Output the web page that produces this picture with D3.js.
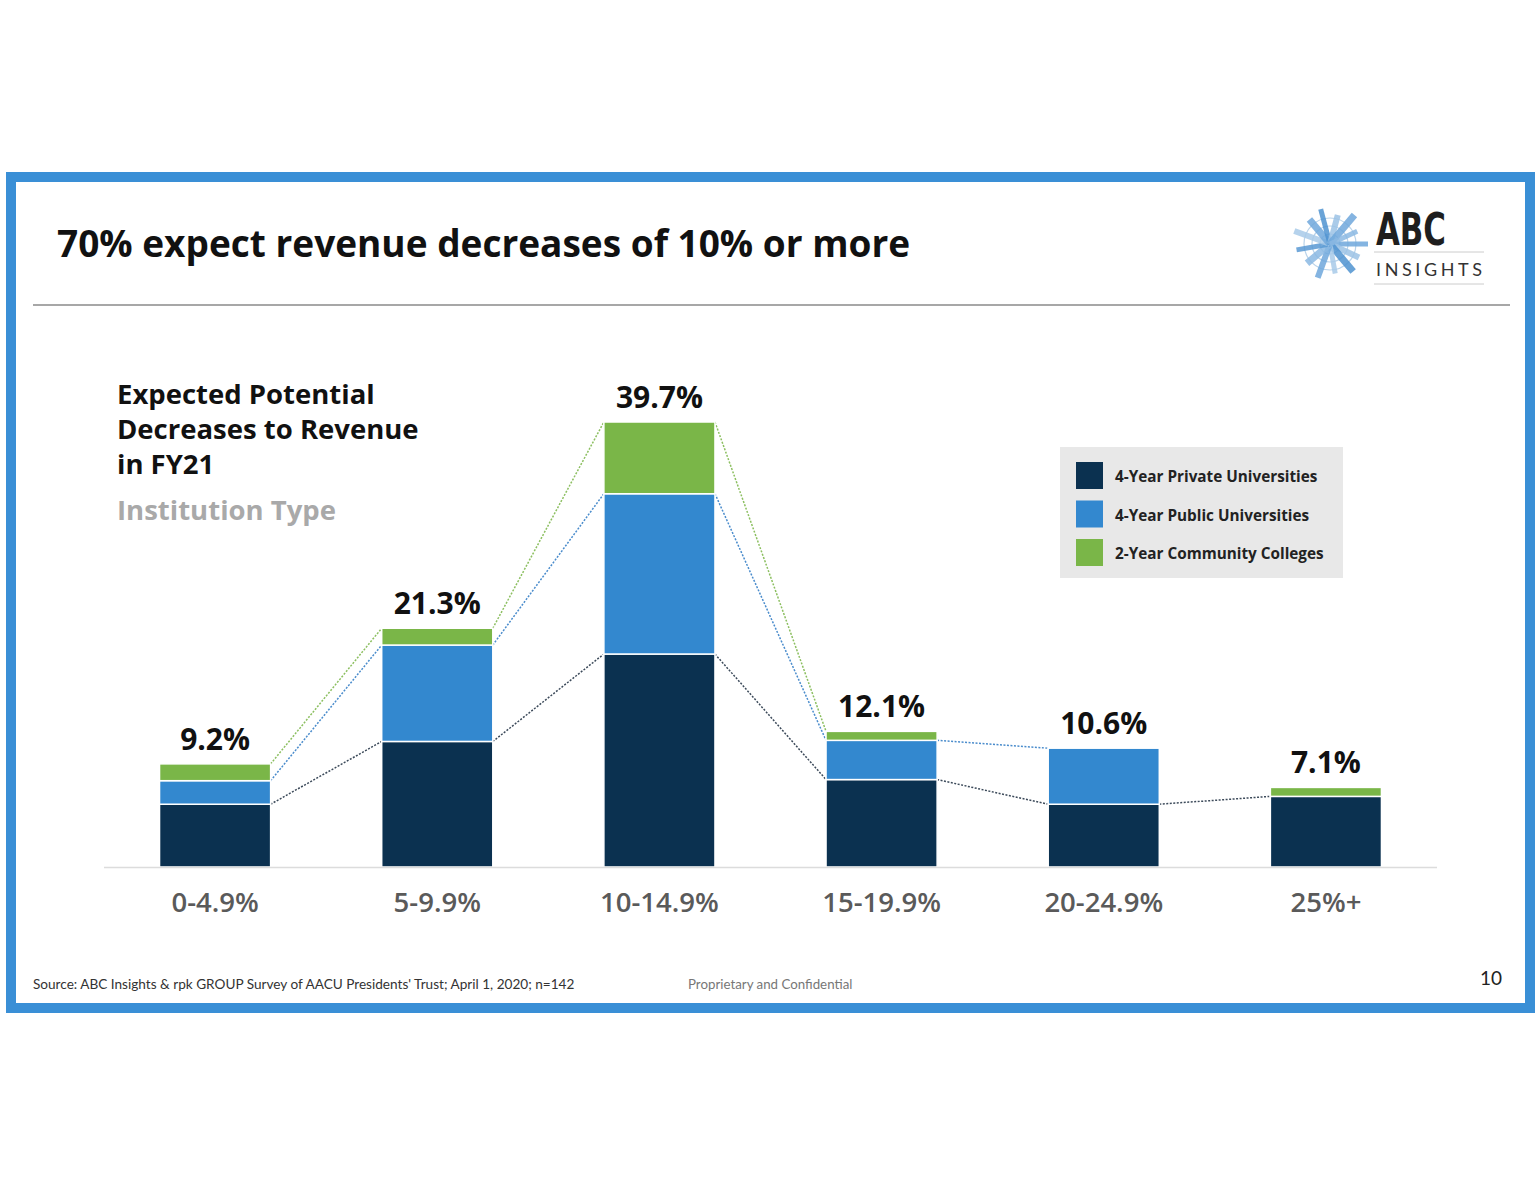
<!DOCTYPE html>
<html>
<head>
<meta charset="utf-8">
<script src="https://cdn.jsdelivr.net/npm/d3@7"></script>
<style>
  html, body { margin: 0; padding: 0; background: #fff; }
  svg { display: block; font-family: "Open Sans", Lato, sans-serif; }
</style>
</head>
<body>
<svg id="chart" width="1536" height="1187"></svg>
<script>
// ---- data ----
const categories = ["0-4.9%", "5-9.9%", "10-14.9%", "15-19.9%", "20-24.9%", "25%+"];
const seriesNames = ["4-Year Private Universities", "4-Year Public Universities", "2-Year Community Colleges"];
const privateValues = [5.6, 11.2, 19.0, 7.8, 5.6, 6.3];
const publicValues = [2.1, 8.6, 14.3, 3.5, 5.0, 0.0];
const communityValues = [1.5, 1.5, 6.4, 0.8, 0.0, 0.8];
const totalLabels = ["9.2%", "21.3%", "39.7%", "12.1%", "10.6%", "7.1%"];
const seriesColors = ["#0b3150", "#3388cf", "#7ab648"];
const lineColors = ["#3c4a5a", "#4a8ccc", "#8cbf60"];

const svg = d3.select("#chart");
const OPEN = "'Open Sans', sans-serif";
const LATO = "Lato, sans-serif";

// ---- frame ----
svg.append("rect").attr("x", 11).attr("y", 177).attr("width", 1519).attr("height", 831)
  .attr("fill", "#fff").attr("stroke", "#3a8fd6").attr("stroke-width", 10);

// title
svg.append("text").attr("x", 57).attr("y", 257).style("font-family", OPEN)
  .attr("font-size", 37).attr("font-weight", 700).attr("fill", "#111")
  .text("70% expect revenue decreases of 10% or more");
svg.append("line").attr("x1", 33).attr("x2", 1510).attr("y1", 305).attr("y2", 305)
  .attr("stroke", "#8a8a8a").attr("stroke-width", 1.5);

// ---- logo ----
const logo = svg.append("g").attr("transform", "translate(1330,244)");
[10, 18, 26].forEach(r => {
  logo.append("circle").attr("r", r).attr("fill", "none")
    .attr("stroke", "#b9d3ea").attr("stroke-width", 1.2);
});
const rays = [
  [0, 38, 5, "#6fa8dc"], [25, 32, 6, "#9cc3e6"], [50, 36, 7, "#4f93d1"], [80, 30, 5, "#a9cbe9"],
  [110, 36, 6, "#6fa8dc"], [140, 30, 7, "#8bb9e3"], [170, 34, 5, "#5a9ad4"], [200, 38, 6, "#a9cbe9"],
  [230, 32, 7, "#6fa8dc"], [255, 36, 5, "#4f93d1"], [285, 30, 6, "#9cc3e6"], [310, 38, 7, "#6fa8dc"],
  [335, 30, 5, "#8bb9e3"]
];
rays.forEach(([a, len, w, c]) => {
  const rad = a * Math.PI / 180;
  logo.append("line").attr("x1", 0).attr("y1", 0)
    .attr("x2", Math.cos(rad) * len).attr("y2", Math.sin(rad) * len)
    .attr("stroke", c).attr("stroke-width", w).attr("opacity", 0.85);
});
svg.append("text").attr("x", 1376).attr("y", 245)
  .style("font-family", "'Liberation Sans Narrow', 'DejaVu Sans Condensed', sans-serif")
  .attr("font-size", 44).attr("font-weight", 700).attr("fill", "#1e1e1e")
  .attr("textLength", 70).attr("lengthAdjust", "spacingAndGlyphs")
  .text("ABC");
svg.append("line").attr("x1", 1374).attr("x2", 1484).attr("y1", 252).attr("y2", 252)
  .attr("stroke", "#ccc").attr("stroke-width", 1);
svg.append("text").attr("x", 1376).attr("y", 276)
  .style("font-family", LATO)
  .attr("font-size", 18).attr("fill", "#333").attr("letter-spacing", 3.6)
  .text("INSIGHTS");
svg.append("line").attr("x1", 1374).attr("x2", 1484).attr("y1", 284).attr("y2", 284)
  .attr("stroke", "#ccc").attr("stroke-width", 1);

// ---- chart subtitle ----
const sub = svg.append("text").attr("x", 117).style("font-family", OPEN)
  .attr("font-size", 27.5).attr("font-weight", 700).attr("fill", "#111");
["Expected Potential", "Decreases to Revenue", "in FY21"].forEach((t, i) => {
  sub.append("tspan").attr("x", 117).attr("y", 404 + i * 35).text(t);
});
svg.append("text").attr("x", 117).attr("y", 520).style("font-family", OPEN)
  .attr("font-size", 27.5).attr("font-weight", 700)
  .attr("fill", "#a9a9a9").text("Institution Type");

// ---- scales ----
const baseline = 867;
const x = d3.scaleBand().domain(categories).range([104, 1437]).paddingInner(0.5).paddingOuter(0.25);
const y = d3.scaleLinear().domain([0, 39.7]).range([baseline, 422]);

const rows = categories.map((c, i) => ({
  cat: c, "0": privateValues[i], "1": publicValues[i], "2": communityValues[i]
}));
const stack = d3.stack().keys(["0", "1", "2"])(rows);

// connecting dotted lines
stack.forEach((layer, s) => {
  for (let i = 0; i < categories.length - 1; i++) {
    const a = layer[i], b = layer[i + 1];
    if (a.data[s] > 0 && b.data[s] > 0) {
      svg.append("line")
        .attr("x1", x(categories[i]) + x.bandwidth()).attr("y1", y(a[1]))
        .attr("x2", x(categories[i + 1])).attr("y2", y(b[1]))
        .attr("stroke", lineColors[s]).attr("stroke-width", 1.5)
        .attr("stroke-dasharray", "2,1.5");
    }
  }
});

// bars
stack.forEach((layer, s) => {
  svg.append("g").selectAll("rect").data(layer).join("rect")
    .filter(d => d[1] - d[0] > 0)
    .attr("x", d => x(d.data.cat))
    .attr("y", d => y(d[1]))
    .attr("width", x.bandwidth())
    .attr("height", d => y(d[0]) - y(d[1]))
    .attr("fill", seriesColors[s])
    .attr("stroke", "#fff").attr("stroke-width", 1.5);
});

// baseline
svg.append("line").attr("x1", 104).attr("x2", 1437).attr("y1", baseline + 0.5).attr("y2", baseline + 0.5)
  .attr("stroke", "#dcdcdc").attr("stroke-width", 1.5);

// total labels
const totals = categories.map((c, i) => privateValues[i] + publicValues[i] + communityValues[i]);
svg.append("g").selectAll("text").data(categories).join("text")
  .attr("x", c => x(c) + x.bandwidth() / 2)
  .attr("y", (c, i) => y(totals[i]) - 14)
  .style("font-family", OPEN)
  .attr("text-anchor", "middle").attr("font-size", 30).attr("font-weight", 700).attr("fill", "#111")
  .text((c, i) => totalLabels[i]);

// x axis labels
const xAxis = d3.axisBottom(x).tickSize(0).tickPadding(0);
const ax = svg.append("g").attr("transform", `translate(0,${baseline})`).call(xAxis);
ax.select(".domain").remove();
ax.selectAll("text").style("font-family", OPEN)
  .attr("font-size", 27.5).attr("font-weight", 600).attr("fill", "#5a5a5a")
  .attr("dy", 0).attr("y", 45);

// ---- legend ----
svg.append("rect").attr("x", 1060).attr("y", 447).attr("width", 283).attr("height", 131).attr("fill", "#e8e8e8");
seriesNames.forEach((n, i) => {
  svg.append("rect").attr("x", 1076).attr("y", 462 + i * 38.5).attr("width", 27).attr("height", 27)
    .attr("fill", seriesColors[i]);
  svg.append("text").attr("x", 1115).attr("y", 482 + i * 38.5).style("font-family", OPEN)
    .attr("font-size", 15.3).attr("font-weight", 700).attr("fill", "#222").text(n);
});

// ---- footer ----
svg.append("text").attr("x", 33).attr("y", 989).style("font-family", LATO)
  .attr("font-size", 13.6).attr("fill", "#333")
  .text("Source: ABC Insights & rpk GROUP Survey of AACU Presidents' Trust; April 1, 2020; n=142");
svg.append("text").attr("x", 688).attr("y", 989).style("font-family", LATO)
  .attr("font-size", 13.3).attr("fill", "#777")
  .text("Proprietary and Confidential");
svg.append("text").attr("x", 1491).attr("y", 985).attr("text-anchor", "middle").attr("font-size", 19)
  .style("font-family", LATO)
  .attr("fill", "#222").text("10");
</script>
</body>
</html>
